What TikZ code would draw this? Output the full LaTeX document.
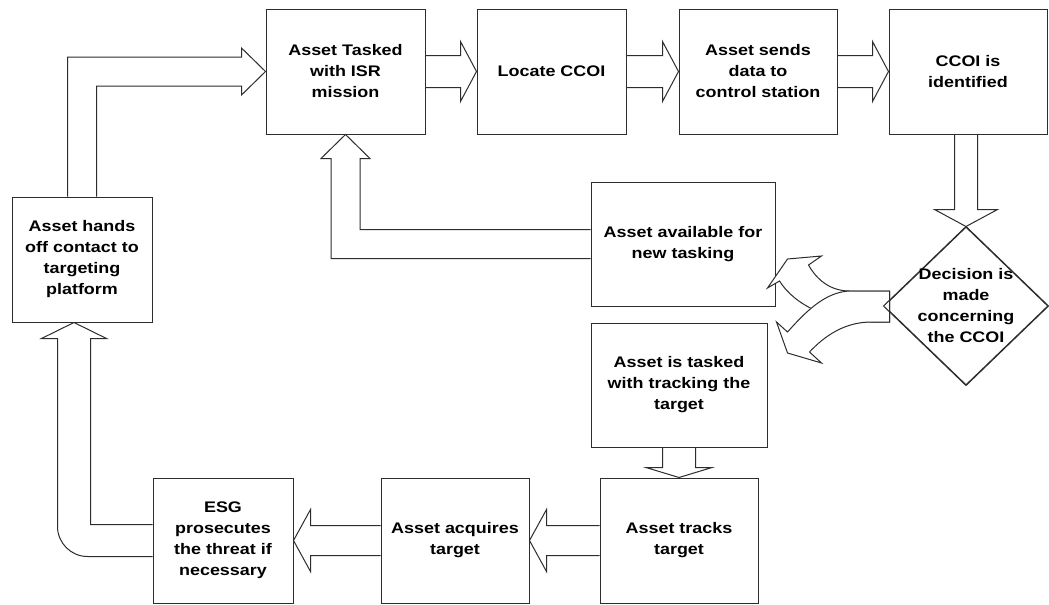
\documentclass[tikz,border=0pt]{standalone}
\usepackage{fontspec}
\setmainfont{Liberation Sans}[FakeStretch=1.17]
\usetikzlibrary{calc,shapes.geometric}
\newcommand{\pxu}{0.75pt}
\definecolor{ln}{RGB}{45,45,45}
\tikzset{
  box/.style={draw=ln, line width=0.75pt, fill=white, align=center, inner sep=0pt,
    font=\bfseries\fontsize{11.5}{15.75}\selectfont, text=black},
  txt/.style={align=center, inner sep=0pt, font=\bfseries\fontsize{11.5}{15.75}\selectfont, text=black},
  barrow/.style={draw=ln, line width=0.75pt, line join=miter},
  carrow/.style={draw=ln, line width=0.75pt, fill=white, line join=miter}
}
\newcommand{\rblock}[2]{\draw[barrow] ($(#1.east)+(0,-16)$) -- ($(#2.west)+(-16,-16)$) -- ($(#2.west)+(-16,-30)$) -- (#2.west) -- ($(#2.west)+(-16,30)$) -- ($(#2.west)+(-16,16)$) -- ($(#1.east)+(0,16)$);}
\newcommand{\lblock}[2]{\draw[barrow] ($(#1.west)+(0,-15)$) -- ($(#2.east)+(17,-15)$) -- ($(#2.east)+(17,-31)$) -- (#2.east) -- ($(#2.east)+(17,31)$) -- ($(#2.east)+(17,15)$) -- ($(#1.west)+(0,15)$);}
\begin{document}
\begin{tikzpicture}[x=0.75pt,y=-0.75pt]
\useasboundingbox (0,0) rectangle (1049,604);
\fill[white] (0,0) rectangle (1049,604);
% boxes
\node[box, minimum width=159*\pxu, minimum height=125*\pxu] (A) at (345.5,71.5) {Asset Tasked\\with ISR\\mission};
\node[box, minimum width=149*\pxu, minimum height=125*\pxu] (B) at (551.5,71.5) {Locate CCOI};
\node[box, minimum width=158*\pxu, minimum height=125*\pxu] (C) at (758,71.5) {Asset sends\\data to\\control station};
\node[box, minimum width=158*\pxu, minimum height=125*\pxu] (D) at (968,71.5) {CCOI is\\identified};
\node[box, minimum width=140*\pxu, minimum height=125*\pxu] (E) at (82,259.5) {Asset hands\\off contact to\\targeting\\platform};
\node[box, minimum width=184*\pxu, minimum height=124*\pxu] (I) at (683,244) {Asset available for\\new tasking};
\node[box, minimum width=176*\pxu, minimum height=124*\pxu] (G) at (679,385) {Asset is tasked\\with tracking the\\target};
\node[box, minimum width=140*\pxu, minimum height=125*\pxu] (F) at (223,540.5) {ESG\\prosecutes\\the threat if\\necessary};
\node[box, minimum width=148*\pxu, minimum height=125*\pxu] (J) at (455,540.5) {Asset acquires\\target};
\node[box, minimum width=158*\pxu, minimum height=125*\pxu] (H) at (679,540.5) {Asset tracks\\target};
\node[draw=ln, line width=0.75pt, diamond, minimum width=164*\pxu, minimum height=158*\pxu, inner sep=0pt] (K) at (966,306) {};
% top row arrows
\rblock{A}{B}
\rblock{B}{C}
\rblock{C}{D}
% bottom row arrows
\lblock{H}{J}
\lblock{J}{F}
% G -> H
\draw[barrow] ($(G.south)+(-16.5,0)$) -- ($(H.north)+(-16.5,-10)$) -- ($(H.north)+(-33,-10)$) -- (H.north) -- ($(H.north)+(33,-10)$) -- ($(H.north)+(16.5,-10)$) -- ($(G.south)+(16.5,0)$);
% D -> K
\coordinate (k1) at ($(K.north)+(-11.5,-17)$);
\coordinate (k2) at ($(K.north)+(11.5,-17)$);
\draw[barrow] (k1 |- D.south) -- (k1) -- ($(K.north)+(-31.5,-17)$) -- (K.north) -- ($(K.north)+(31.5,-17)$) -- (k2) -- (k2 |- D.south);
% E -> A
\coordinate (e1) at ($(E.north)+(-14.5,0)$);
\coordinate (e2) at ($(E.north)+(14.5,0)$);
\coordinate (a1) at ($(A.west)+(-24,-14.5)$);
\coordinate (a2) at ($(A.west)+(-24,14.5)$);
\draw[barrow] (e1) -- (e1 |- a1) -- (a1) -- ($(A.west)+(-24,-23.5)$) -- (A.west) -- ($(A.west)+(-24,23.5)$) -- (a2) -- (e2 |- a2) -- (e2);
% I -> A
\coordinate (i1) at ($(I.west)+(0,14.5)$);
\coordinate (i2) at ($(I.west)+(0,-14.5)$);
\coordinate (t1) at ($(A.south)+(-14.5,24)$);
\coordinate (t2) at ($(A.south)+(14.5,24)$);
\draw[barrow] (i1) -- (t1 |- i1) -- (t1) -- ($(A.south)+(-24.5,24)$) -- (A.south) -- ($(A.south)+(24.5,24)$) -- (t2) -- (t2 |- i2) -- (i2);
% F -> E
\coordinate (et) at ($(E.south)+(-8,0)$);
\coordinate (f1) at ($(et)+(-16.5,16)$);
\coordinate (f2) at ($(et)+(16.5,16)$);
\coordinate (fo) at ($(F.west)+(0,16)$);
\coordinate (fi) at ($(F.west)+(0,-16)$);
\coordinate (cc) at (f1 |- fo);
\draw[barrow] (fo) -- ($(cc)+(30,0)$) .. controls ($(cc)+(13.5,0)$) and ($(cc)+(0,-13.5)$) .. ($(cc)+(0,-30)$) -- (f1) -- ($(et)+(-32.5,16)$) -- (et) -- ($(et)+(32.5,16)$) -- (f2) -- (f2 |- fi) -- (fi);
% curved double arrow from decision
\begin{scope}[shift={(K.west)}]
\draw[carrow] (6,-15) -- (-34,-15) .. controls (-56,-15) and (-69,-30) .. (-75,-41) -- (-62,-50) -- (-96,-47) -- (-116,-18) -- (-104,-25) .. controls (-89,-1) and (-54,16) .. (-12,16) -- (6,16) -- cycle;
\draw[carrow] (6,-15) -- (-34,-15) .. controls (-59,-14) and (-79,7) .. (-96,26) -- (-107,16) -- (-96,47) -- (-62,57) -- (-74,46) .. controls (-59,30) and (-39,16) .. (-12,16) -- (6,16) -- cycle;
\end{scope}
\draw[ln, line width=0.75pt] (K.north) -- (K.east) -- (K.south) -- (K.west) -- cycle;
\node[txt] (Kt) at (K.center) {Decision is\\made\\concerning\\the CCOI};
\end{tikzpicture}
\end{document}
